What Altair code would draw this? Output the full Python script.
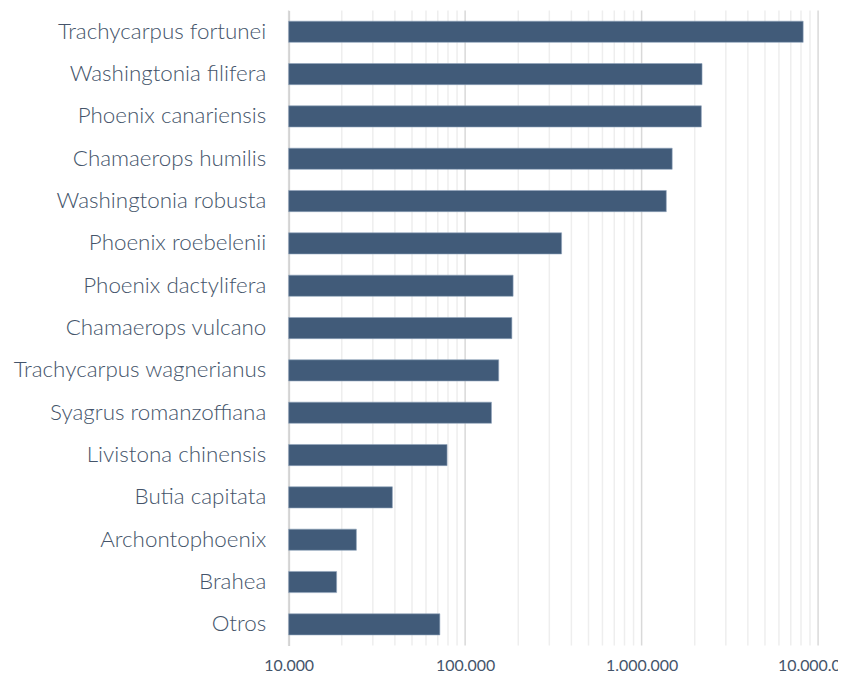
import altair as alt
import pandas as pd

species = [
    "Trachycarpus fortunei", "Washingtonia filifera", "Phoenix canariensis",
    "Chamaerops humilis", "Washingtonia robusta", "Phoenix roebelenii",
    "Phoenix dactylifera", "Chamaerops vulcano", "Trachycarpus wagnerianus",
    "Syagrus romanzoffiana", "Livistona chinensis", "Butia capitata",
    "Archontophoenix", "Brahea", "Otros",
]
values = [
    8230000, 2200000, 2180000, 1490000, 1380000, 352000,
    187000, 184000, 155000, 141000, 79000, 38700,
    24200, 18700, 71900,
]
axis_min = 10000
major_ticks = [10000, 100000, 1000000, 10000000]
minor_ticks = [m * d for d in (10000, 100000, 1000000) for m in range(2, 10)]

df = pd.DataFrame({"species": species, "value": values, "base": [axis_min] * len(values)})
grid_df = pd.DataFrame({"v": minor_ticks})
major_df = pd.DataFrame({"v": major_ticks})

FONT = "Lato"
TXT = "#44546A"
BAR = "#415B79"

xscale = alt.Scale(type="log", domain=[10000, 10000000])

x_axis = alt.Axis(
    values=major_ticks,
    grid=False,
    ticks=False,
    domain=False,
    labelFont=FONT,
    labelFontSize=16,
    labelColor=TXT,
    labelPadding=12,
    labelFlush=False,
    labelOverlap=False,
    labelExpr="replace(format(datum.value, ',d'), regexp(',', 'g'), '.')",
)

minor = alt.Chart(grid_df).mark_rule(color="#EEEEEE", strokeWidth=1.5).encode(
    x=alt.X("v:Q", scale=xscale, title=None, axis=x_axis)
)
major = alt.Chart(major_df).mark_rule(color="#D9D9D9", strokeWidth=1.5).encode(
    x=alt.X("v:Q", scale=xscale, title=None)
)

bars = alt.Chart(df).mark_bar(color=BAR, stroke="#8FA3BC", strokeWidth=0.6).encode(
    x=alt.X("base:Q", scale=xscale, title=None),
    x2="value:Q",
    y=alt.Y(
        "species:N",
        sort=species,
        title=None,
        scale=alt.Scale(paddingInner=0.5, paddingOuter=0.25),
        axis=alt.Axis(
            ticks=False,
            domain=True,
            domainColor="#D0D0D0",
            domainWidth=2,
            labelFont=FONT,
            labelFontWeight=300,
            labelFontSize=22.5,
            labelColor=TXT,
            labelPadding=23,
            labelLimit=400,
        ),
    ),
)

chart = (
    alt.layer(minor, major, bars)
    .properties(
        width=532,
        height=638,
        padding={"left": 282, "top": 1, "right": 20, "bottom": 28},
        autosize=alt.AutoSizeParams(type="none"),
    )
    .configure_view(stroke=None)
)

chart.save("out.html", embed_options={"renderer": "svg", "actions": False})
